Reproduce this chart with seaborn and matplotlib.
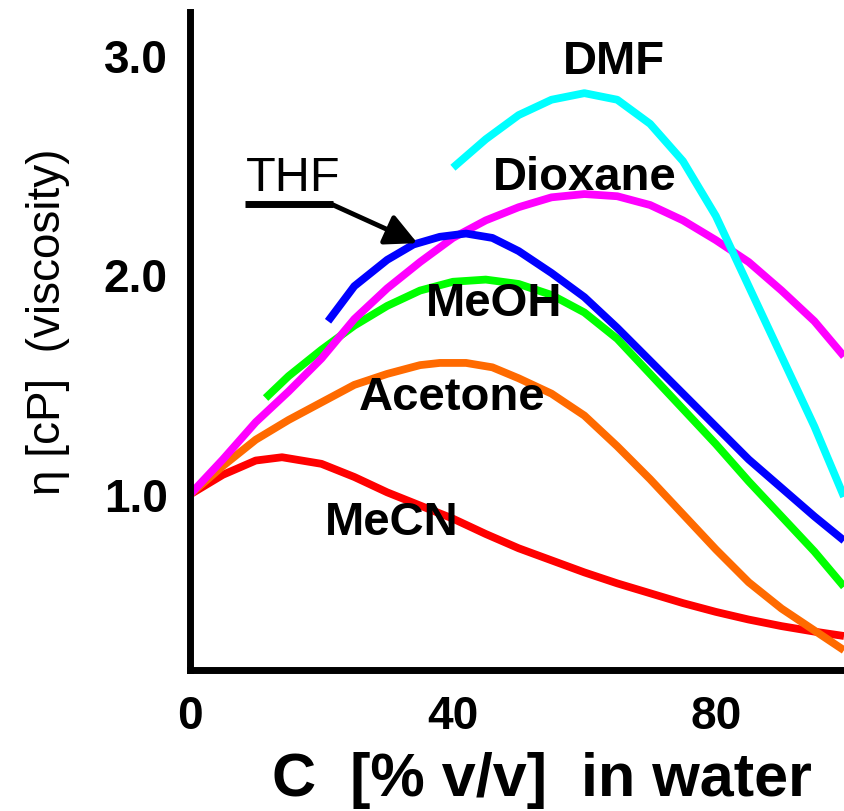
import numpy as np
import pandas as pd
import matplotlib
matplotlib.use("Agg")
import matplotlib.pyplot as plt
import seaborn as sns

# Viscosity of water/organic-solvent mixtures vs. organic content
solvents = ["MeCN", "Acetone", "MeOH", "Dioxane", "THF", "DMF"]

c_mecn = [0, 5, 10, 14, 20, 25, 30, 35, 40, 45, 50, 55, 60, 65, 70, 75, 80, 85, 90, 95, 99.5]
eta_mecn = [1.00, 1.09, 1.155, 1.17, 1.14, 1.08, 1.01, 0.95, 0.89, 0.82, 0.755, 0.70, 0.645, 0.595,
            0.55, 0.505, 0.465, 0.43, 0.40, 0.375, 0.355]

c_acetone = [0, 5, 10, 15, 20, 25, 30, 35, 38, 42, 46, 50, 55, 60, 65, 70, 75, 80, 85, 90, 95, 99.5]
eta_acetone = [1.00, 1.13, 1.25, 1.34, 1.42, 1.50, 1.55, 1.59, 1.60, 1.60, 1.58, 1.53, 1.46, 1.36,
               1.22, 1.07, 0.91, 0.75, 0.60, 0.48, 0.38, 0.29]

c_meoh = [11.5, 15, 20, 25, 30, 35, 40, 45, 50, 55, 60, 65, 70, 75, 80, 85, 90, 95, 99.5]
eta_meoh = [1.44, 1.54, 1.66, 1.77, 1.86, 1.93, 1.97, 1.98, 1.96, 1.91, 1.83, 1.71, 1.55, 1.39,
            1.23, 1.06, 0.90, 0.74, 0.58]

c_dioxane = [0, 5, 10, 15, 20, 25, 30, 35, 40, 45, 50, 55, 60, 65, 70, 75, 80, 85, 90, 95, 99.5]
eta_dioxane = [1.00, 1.16, 1.33, 1.47, 1.62, 1.80, 1.94, 2.06, 2.17, 2.25, 2.31, 2.355, 2.37, 2.36,
               2.32, 2.25, 2.16, 2.06, 1.93, 1.79, 1.63]

c_thf = [21, 25, 30, 34, 38, 42, 46, 50, 55, 60, 65, 70, 75, 80, 85, 90, 95, 99.5]
eta_thf = [1.79, 1.95, 2.07, 2.14, 2.175, 2.19, 2.17, 2.11, 2.01, 1.90, 1.76, 1.61, 1.46, 1.31,
           1.16, 1.03, 0.90, 0.79]

c_dmf = [40, 45, 50, 55, 60, 65, 70, 75, 80, 85, 90, 95, 99.5]
eta_dmf = [2.49, 2.62, 2.73, 2.80, 2.83, 2.80, 2.69, 2.52, 2.27, 1.95, 1.63, 1.31, 0.99]

colors = ["#ff0000", "#ff6a00", "#00ff00", "#ff00ff", "#0000ff", "#00ffff"]

x_ticks = [0, 40, 80]
x_minor = [20]
y_ticks = [1.0, 2.0, 3.0]
y_minor = [0.5, 1.5, 2.5]

frames = []
for name, c, eta in zip(solvents,
                        [c_mecn, c_acetone, c_meoh, c_dioxane, c_thf, c_dmf],
                        [eta_mecn, eta_acetone, eta_meoh, eta_dioxane, eta_thf, eta_dmf]):
    frames.append(pd.DataFrame({"C": c, "eta": eta, "solvent": name}))
df = pd.concat(frames, ignore_index=True)

sns.set_theme(style="white")
plt.rcParams["font.family"] = ["Liberation Sans", "DejaVu Sans"]
plt.rcParams["text.color"] = "black"
plt.rcParams["axes.labelcolor"] = "black"
plt.rcParams["xtick.labelcolor"] = "black"
plt.rcParams["ytick.labelcolor"] = "black"

fig = plt.figure(figsize=(8.44, 8.11), dpi=100)
ax = fig.add_axes([190 / 844, 1 - 670 / 811, 1 - 190 / 844, (670 - 12) / 811])

sns.lineplot(data=df, x="C", y="eta", hue="solvent", hue_order=solvents,
             palette=dict(zip(solvents, colors)), estimator=None, sort=False,
             linewidth=5.6, legend=False, ax=ax, solid_capstyle="butt",
             solid_joinstyle="round")

ax.set_xlim(0, 99.5)
ax.set_ylim(0.2, 3.2)

for side in ["top", "right"]:
    ax.spines[side].set_visible(False)
for side in ["left", "bottom"]:
    ax.spines[side].set_color("black")
    ax.spines[side].set_linewidth(5)

ax.set_xticks(x_ticks)
ax.set_xticks(x_minor, minor=True)
ax.set_xticklabels([str(v) for v in x_ticks])
ax.set_yticks(y_ticks)
ax.set_yticks(y_minor, minor=True)
ax.set_yticklabels([f"{v:.1f}" for v in y_ticks])

ax.tick_params(axis="both", which="major", direction="out", length=5, width=2.2,
               color="#333333", labelsize=33, pad=11, labelcolor="black")
ax.tick_params(axis="both", which="minor", direction="out", length=3, width=2,
               color="#444444")
ax.tick_params(axis="x", which="major", pad=13)
for lab in ax.get_xticklabels() + ax.get_yticklabels():
    lab.set_fontweight("bold")
# the 2.0 position carries a label only
ax.yaxis.get_major_ticks()[1].tick1line.set_visible(False)

ax.set_xlabel("C  [% v/v]  in water", fontsize=44, fontweight="bold", color="black")
ax.xaxis.set_label_coords((542 - 190) / 654, -0.125)
ax.set_ylabel("\u03b7 [cP]  (viscosity)", fontsize=33, color="black")
ax.yaxis.set_label_coords(-0.183, 0.53)

label_kw = dict(fontsize=34, fontweight="bold", ha="center", va="center", color="black")
ax.text(64.5, 2.973, "DMF", **label_kw)
ax.text(60.1, 2.443, "Dioxane", **label_kw)
ax.text(46.3, 1.868, "MeOH", **label_kw)
ax.text(39.9, 1.438, "Acetone", **label_kw)
ax.text(30.7, 0.868, "MeCN", **label_kw)

# THF: underlined label with a pointer onto its curve
ax.text(15.7, 2.443, "THF", fontsize=35, ha="center", va="center", color="black")
ax.plot([8.4, 21.8], [2.324, 2.324], color="black", linewidth=5,
        solid_capstyle="butt", clip_on=False)
ax.annotate("", xy=(34.6, 2.146), xytext=(21.5, 2.324),
            arrowprops=dict(arrowstyle="-|>,head_length=1.6,head_width=0.8",
                            color="black", lw=3.5, shrinkA=0, shrinkB=0))

fig.savefig("out.png", dpi=100, facecolor="white")
